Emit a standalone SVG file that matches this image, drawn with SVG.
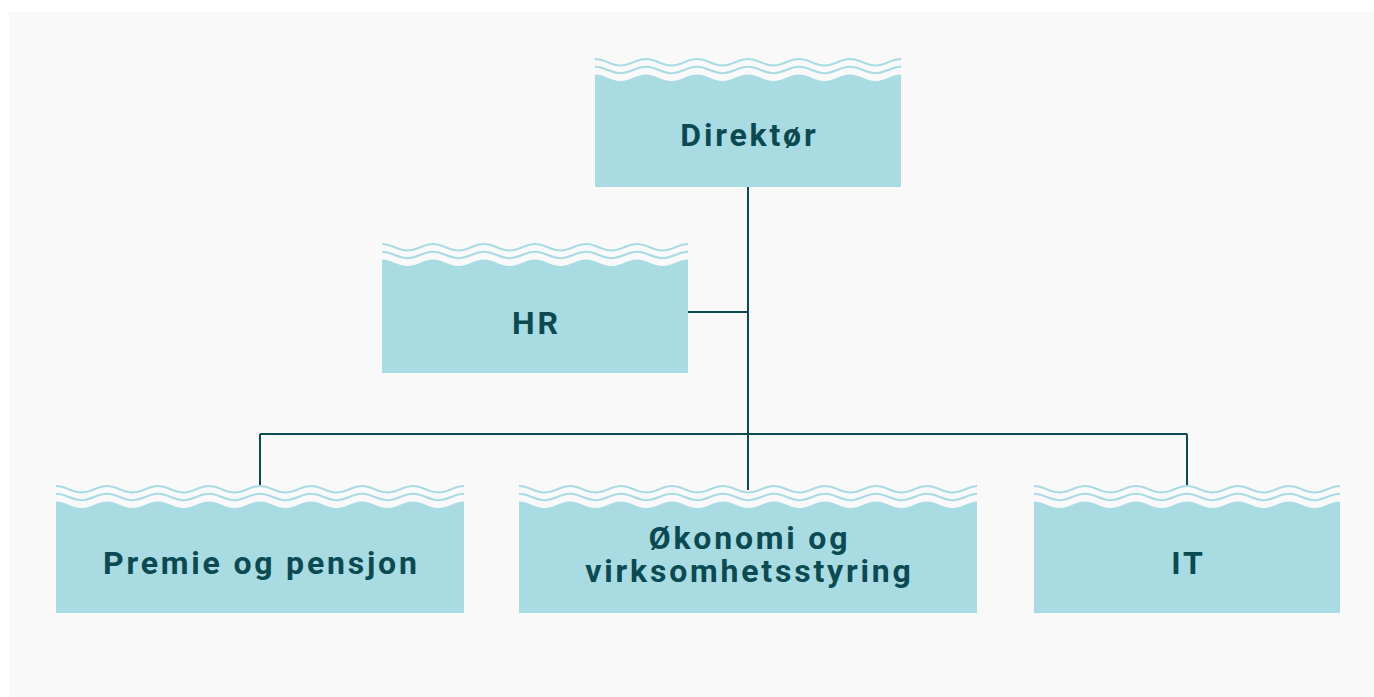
<svg xmlns="http://www.w3.org/2000/svg" width="1374" height="697" viewBox="0 0 1374 697">
<style>
.body{fill:#a8dce2}
.lbl{font-family:Roboto,"Liberation Sans",sans-serif;font-weight:700;font-size:32px;fill:#0c4a52;text-anchor:middle;letter-spacing:2.8px}
.con{stroke:#0c4a52;stroke-width:2;fill:none}
</style>
<defs>
<pattern id="wv" patternUnits="userSpaceOnUse" x="0" y="0" width="51" height="24">
<path d="M0,1 C9.3,1 16.2,7.5 25.5,7.5 C34.8,7.5 41.7,1 51,1" fill="none" stroke="#a8dce2" stroke-width="2"/>
<path d="M0,8.8 C9.3,8.8 16.2,15.2 25.5,15.2 C34.8,15.2 41.7,8.8 51,8.8" fill="none" stroke="#a8dce2" stroke-width="2"/>
<path d="M0,16.5 C9.3,16.5 16.2,23 25.5,23 C34.8,23 41.7,16.5 51,16.5 V24 H0 Z" fill="#a8dce2"/>
</pattern>
</defs>
<rect x="0" y="0" width="1374" height="697" fill="#ffffff"/>
<rect x="9" y="12" width="1365" height="685" fill="#f9f9f9"/>
<g id="connectors" class="con">
<path d="M748,187 V490"/>
<path d="M688,312 H748"/>
<path d="M260,434 H1187"/>
<path d="M260,434 V486"/>
<path d="M1187,434 V486"/>
</g>
<g id="direktor" transform="translate(595,58)">
<rect x="0" y="0" width="306" height="24" fill="url(#wv)"/>
<rect class="body" x="0" y="23.5" width="306" height="105.5"/>
<text class="lbl" x="154.4" y="88">Direktør</text>
</g>
<g id="hr" transform="translate(382,243)">
<rect x="0" y="0" width="306" height="24" fill="url(#wv)"/>
<rect class="body" x="0" y="23.5" width="306" height="106.5"/>
<text class="lbl" x="154.4" y="91">HR</text>
</g>
<g id="premie" transform="translate(56,485)">
<rect x="0" y="0" width="408" height="24" fill="url(#wv)"/>
<rect class="body" x="0" y="23.5" width="408" height="104.5"/>
<text class="lbl" x="205.4" y="89">Premie og pensjon</text>
</g>
<g id="okonomi" transform="translate(519,485)">
<rect x="0" y="0" width="458" height="24" fill="url(#wv)"/>
<rect class="body" x="0" y="23.5" width="458" height="104.5"/>
<text class="lbl" x="230.4" y="64">Økonomi og</text>
<text class="lbl" x="230.4" y="97">virksomhetsstyring</text>
</g>
<g id="it" transform="translate(1034,485)">
<rect x="0" y="0" width="306" height="24" fill="url(#wv)"/>
<rect class="body" x="0" y="23.5" width="306" height="104.5"/>
<text class="lbl" x="154.4" y="89">IT</text>
</g>
</svg>
